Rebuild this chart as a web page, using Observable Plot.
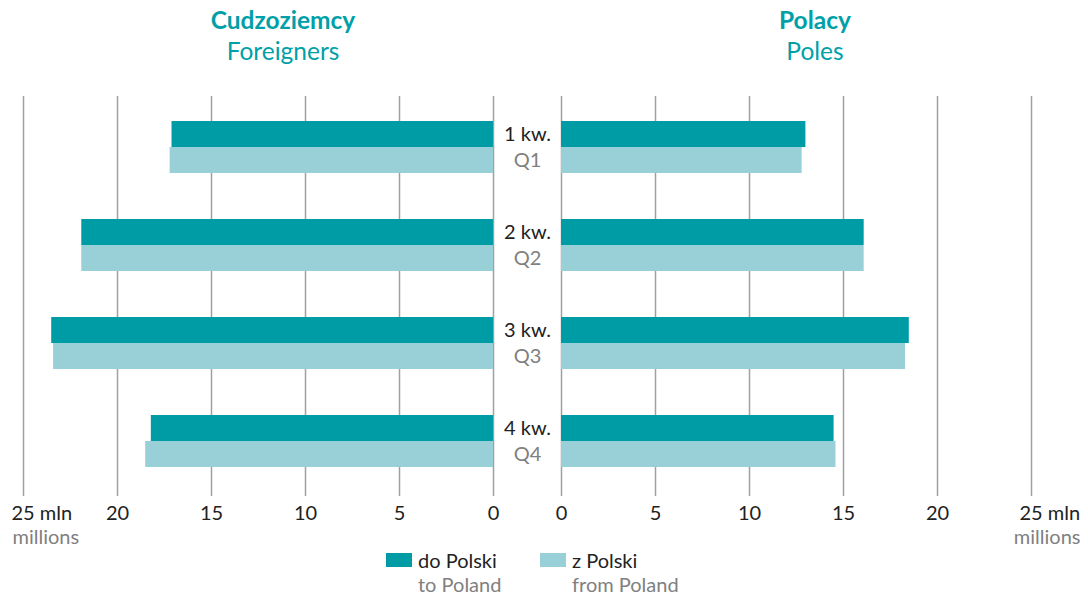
<!DOCTYPE html>
<html>
<head>
<meta charset="utf-8">
<script src="https://cdn.jsdelivr.net/npm/d3@7"></script>
<script src="https://cdn.jsdelivr.net/npm/@observablehq/plot@0.6"></script>
<style>
  body { margin: 0; width: 1088px; height: 595px; position: relative; background: #fff; font-family: Lato, "Open Sans", sans-serif; overflow: hidden; }
  .abs { position: absolute; }
  .title { color: #00a0a8; font-size: 24.5px; text-align: center; width: 300px; line-height: 1; }
  .title b { font-weight: 700; }
  .legend { font-size: 20px; color: #222; line-height: 1.1; }
  .legend.en { color: #808080; }
  .sw { position: absolute; width: 26px; height: 14px; }
</style>
</head>
<body>
<div class="abs title" style="left:133px; top:8px;"><b>Cudzoziemcy</b></div>
<div class="abs title" style="left:133px; top:39px;">Foreigners</div>
<div class="abs title" style="left:665px; top:8px;"><b>Polacy</b></div>
<div class="abs title" style="left:665px; top:39px;">Poles</div>
<div id="left" class="abs" style="left:0; top:70px;"></div>
<div id="right" class="abs" style="left:527px; top:70px;"></div>
<div class="sw" id="sw1" style="left:386px; top:553px;"></div>
<div class="abs legend" style="left:418px; top:549px;">do Polski</div>
<div class="abs legend en" style="left:418px; top:573px;">to Poland</div>
<div class="sw" id="sw2" style="left:540px; top:553px;"></div>
<div class="abs legend" style="left:572px; top:549px;">z Polski</div>
<div class="abs legend en" style="left:572px; top:573px;">from Poland</div>
<script>
const quarters = ["Q1", "Q2", "Q3", "Q4"];
const quartersPL = ["1 kw.", "2 kw.", "3 kw.", "4 kw."];
const seriesNames = ["do Polski", "z Polski"];
const foreignersTo = [17.1, 21.9, 23.5, 18.2];
const foreignersFrom = [17.2, 21.9, 23.4, 18.5];
const polesTo = [13.0, 16.1, 18.5, 14.5];
const polesFrom = [12.8, 16.1, 18.3, 14.6];
const tickValues = [0, 5, 10, 15, 20, 25];
const tickLabels = ["0", "5", "10", "15", "20", "25 mln"];
const unitLabel = "millions";

const darkColor = "#009ca6";
const lightColor = "#99cfd6";
const gridColor = "#a0a0a0";
document.getElementById("sw1").style.background = darkColor;
document.getElementById("sw2").style.background = lightColor;

const ticks = tickValues.map((v, i) => ({v, label: tickLabels[i]}));
const font = "Lato, 'Open Sans', sans-serif";

function rows(to, from) {
  return quarters.flatMap((q, i) => [
    {q, pl: quartersPL[i], series: seriesNames[0], value: to[i]},
    {q, pl: quartersPL[i], series: seriesNames[1], value: from[i]}
  ]);
}

function panel({to, from, reverse, width, marginLeft, marginRight, center, unitAnchor, unitDx}) {
  const data = rows(to, from);
  const marks = [
    Plot.ruleX(tickValues, {stroke: gridColor, strokeWidth: 1.5}),
    Plot.barX(data.filter(d => d.series === seriesNames[0]), {x: "value", y: "q", fill: darkColor, insetBottom: 26}),
    Plot.barX(data.filter(d => d.series === seriesNames[1]), {x: "value", y: "q", fill: lightColor, insetTop: 26}),
    Plot.text(ticks.filter(d => d.v !== 25), {x: "v", text: "label", frameAnchor: "bottom", dy: 23, fontSize: 20, fill: "#222", textAnchor: "middle"}),
    Plot.text(ticks.filter(d => d.v === 25), {x: "v", text: "label", frameAnchor: "bottom", dy: 23, dx: -12, fontSize: 20, fill: "#222", textAnchor: "start"}),
    Plot.text([25], {x: d => d, text: () => unitLabel, frameAnchor: "bottom", dy: 47, dx: unitDx, fontSize: 20, fill: "#808080", textAnchor: unitAnchor})
  ];
  if (center) {
    const qs = quarters.map((q, i) => ({q, pl: quartersPL[i]}));
    marks.push(
      Plot.text(qs, {x: () => 0, y: "q", text: "pl", dx: -34, dy: -13, fontSize: 20, fill: "#222", textAnchor: "middle"}),
      Plot.text(qs, {x: () => 0, y: "q", text: "q", dx: -34, dy: 13, fontSize: 20, fill: "#808080", textAnchor: "middle"})
    );
  }
  return Plot.plot({
    width, height: 480,
    marginLeft, marginRight, marginTop: 26, marginBottom: 54,
    style: {fontFamily: font, overflow: "visible"},
    x: {domain: [0, 25], reverse, axis: null},
    y: {domain: quarters, range: [50, 398], paddingInner: 0.473, paddingOuter: 0, axis: null},
    marks
  });
}

document.getElementById("left").append(panel({
  to: foreignersTo, from: foreignersFrom, reverse: true,
  width: 527, marginLeft: 23, marginRight: 34, center: false, unitAnchor: "start", unitDx: -11
}));
document.getElementById("right").append(panel({
  to: polesTo, from: polesFrom, reverse: false,
  width: 561, marginLeft: 34, marginRight: 57, center: true, unitAnchor: "end", unitDx: 49
}));
</script>
</body>
</html>
